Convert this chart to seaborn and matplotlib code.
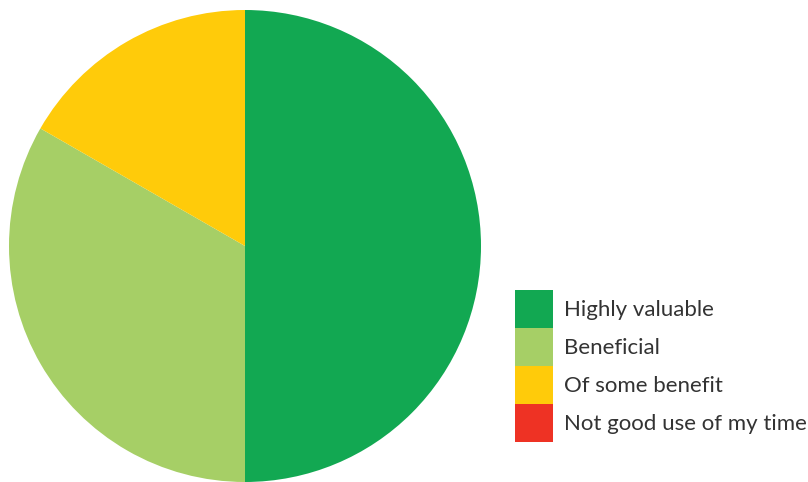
import matplotlib
matplotlib.use("Agg")
import matplotlib.pyplot as plt
import matplotlib.patches as mpatches
import seaborn as sns

categories = ["Highly valuable", "Beneficial", "Of some benefit", "Not good use of my time"]
values = [50.0, 33.3, 16.7, 0.0]
colors = ["#12A852", "#A6CF66", "#FFCB0A", "#EE3224"]

sns.set_theme(style="white")
plt.rcParams["font.family"] = ["Lato", "DejaVu Sans"]

W, H = 808, 482
fig = plt.figure(figsize=(W / 100, H / 100), dpi=100)
fig.patch.set_facecolor("white")

# pie axes: circle spans x 9..481, y 10..482 (from top)
ax = fig.add_axes([9 / W, 0 / H, 472 / W, 472 / H])
ax.pie(values, colors=colors, startangle=90, counterclock=False,
       radius=1.0, wedgeprops=dict(linewidth=0))
ax.set_xlim(-1, 1)
ax.set_ylim(-1, 1)
ax.set_aspect("equal")
ax.axis("off")

fs = 16
fs_px = fs * 100 / 72
sq_w = 38 / fs_px
# visible patch height = fs*(0.65*hh + 0.245)
sq_h = (sq_w - 0.245) / 0.65
handles = [mpatches.Patch(facecolor=c, edgecolor="none", label=l) for c, l in zip(colors, categories)]
fig.legend(handles=handles, loc="upper left",
           bbox_to_anchor=(515 / W, 1 - 290 / H),
           frameon=False, fontsize=fs, handlelength=sq_w, handleheight=sq_h,
           labelspacing=0, handletextpad=11 / fs_px, borderpad=0, borderaxespad=0,
           labelcolor="#333333")

fig.savefig("out.png", dpi=100)
